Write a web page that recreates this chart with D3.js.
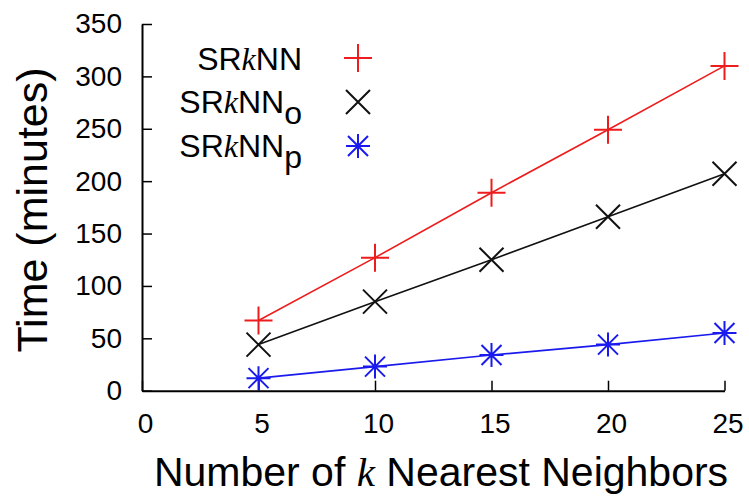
<!DOCTYPE html>
<html><head><meta charset="utf-8">
<script src="https://cdn.jsdelivr.net/npm/d3@7"></script>
<style>
body{margin:0;background:#fff;}
text{font-family:"Liberation Sans",Arial,Helvetica,sans-serif;fill:#000;}
</style></head>
<body><svg id="chart" width="749" height="497"></svg>
<script>
const kValues = [5, 10, 15, 20, 25];
const srknn   = [67, 127, 189, 249, 310];
const srknnO  = [44, 85, 125, 166, 207];
const srknnP  = [12, 23, 34, 44, 55];
const xTicks = [0, 5, 10, 15, 20, 25];
const yTicks = [0, 50, 100, 150, 200, 250, 300, 350];
const seriesNames = ["SRkNN", "SRkNNo", "SRkNNp"];

const series = [
  {sub: "", values: srknn, color: "#ee1c1c", marker: "plus"},
  {sub: "o", values: srknnO, color: "#111111", marker: "cross"},
  {sub: "p", values: srknnP, color: "#1a1aee", marker: "star"}
];

const svg = d3.select("#chart");
const x = d3.scaleLinear().domain([0, 25]).range([142, 724.5]);
const y = d3.scaleLinear().domain([0, 350]).range([390.7, 24]);

function markerPath(type) {
  const p = d3.path();
  if (type === "plus") { const h = 14; p.moveTo(-h,0); p.lineTo(h,0); p.moveTo(0,-h); p.lineTo(0,h); }
  if (type === "cross") { const h = 12; p.moveTo(-h,-h); p.lineTo(h,h); p.moveTo(-h,h); p.lineTo(h,-h); }
  if (type === "star") { const h = 12, d = 10; p.moveTo(-h,0); p.lineTo(h,0); p.moveTo(0,-h); p.lineTo(0,h);
    p.moveTo(-d,-d); p.lineTo(d,d); p.moveTo(-d,d); p.lineTo(d,-d); }
  return p.toString();
}

// axes
const xAxis = d3.axisBottom(x).tickValues(xTicks).tickSizeInner(-10).tickSizeOuter(0).tickPadding(22.5);
const yAxis = d3.axisLeft(y).tickValues(yTicks).tickSizeInner(-10).tickSizeOuter(0).tickPadding(20);
const gx = svg.append("g").attr("transform", `translate(0,${y(0)})`).call(xAxis);
const gy = svg.append("g").attr("transform", `translate(${x(0)},0)`).call(yAxis);
[gx, gy].forEach(g => {
  g.select(".domain").attr("stroke", "#000").attr("stroke-width", 2);
  g.selectAll(".tick line").attr("stroke", "#000").attr("stroke-width", 1.5);
  g.selectAll(".tick text").attr("font-size", 28).attr("font-family", "Liberation Sans, Arial, sans-serif").attr("fill", "#000");
});
gx.selectAll(".tick text").attr("dy", "0.71em").attr("dx", 3);

// lines and markers
const line = d3.line().x((d, i) => x(kValues[i])).y(d => y(d));
series.forEach(s => {
  svg.append("path").attr("d", line(s.values)).attr("fill", "none")
    .attr("stroke", s.color).attr("stroke-width", 1.6);
  svg.selectAll(null).data(s.values).enter().append("path")
    .attr("transform", (d, i) => `translate(${x(kValues[i])},${y(d)})`)
    .attr("d", markerPath(s.marker)).attr("fill", "none")
    .attr("stroke", s.color).attr("stroke-width", 2);
});

// legend
const legBase = [70, 113, 157];
const legMark = [58, 102, 146];
series.forEach((s, i) => {
  const t = svg.append("text").attr("x", 302).attr("y", legBase[i])
    .attr("text-anchor", "end").attr("font-size", 32);
  t.append("tspan").text("SR");
  t.append("tspan").text("k").attr("font-family", "Liberation Serif, Times New Roman, serif").attr("font-style", "italic");
  t.append("tspan").text("NN");
  if (s.sub) t.append("tspan").text(s.sub).attr("dy", 11);
  svg.append("path").attr("transform", `translate(358,${legMark[i]})`)
    .attr("d", markerPath(s.marker)).attr("fill", "none")
    .attr("stroke", s.color).attr("stroke-width", 2);
});

// axis titles
const xt = svg.append("text").attr("x", 441).attr("y", 486).attr("text-anchor", "middle").attr("font-size", 41);
xt.append("tspan").text("Number of ");
xt.append("tspan").text("k").attr("font-family", "Liberation Serif, Times New Roman, serif").attr("font-style", "italic");
xt.append("tspan").text(" Nearest Neighbors");

svg.append("text").attr("transform", "translate(47,210) rotate(-90)")
  .attr("text-anchor", "middle").attr("font-size", 43).text("Time (minutes)");
</script></body></html>
